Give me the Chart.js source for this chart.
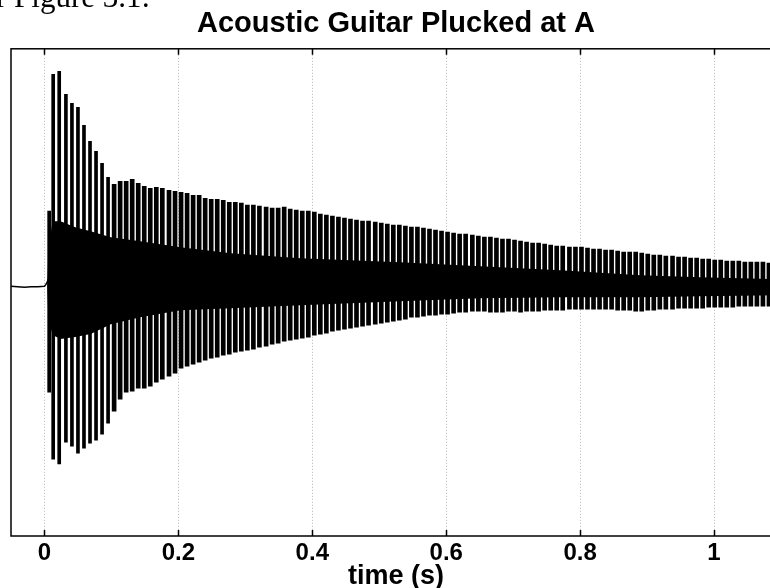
<!DOCTYPE html>
<html>
<head>
<meta charset="utf-8">
<script src="https://cdn.jsdelivr.net/npm/chart.js@4.4.0/dist/chart.umd.min.js"></script>
<style>
  body { margin: 0; overflow: hidden; background: #fff; width: 770px; height: 588px; position: relative; }
  #caption { position: absolute; left: -4px; top: -21px; font-family: 'Liberation Serif', serif; font-size: 31px; color: #000; white-space: nowrap; z-index: 2; }
  #wrap { position: absolute; left: 0; top: 0; }
</style>
</head>
<body>
<div id="caption">r Figure 3.1:</div>
<div id="wrap"><canvas id="myChart" width="800" height="588"></canvas></div>
<script>
'use strict';
// one spike per string period: time (s), top and bottom of the swing
let spikeTime = [0.007,
    0.013, 0.022, 0.032, 0.041, 0.050, 0.059, 0.068, 0.077, 0.086, 0.095,
    0.104, 0.113, 0.122, 0.131, 0.140, 0.149, 0.158, 0.167, 0.176, 0.186,
    0.195, 0.204, 0.213, 0.222, 0.231, 0.240, 0.249, 0.258, 0.267, 0.276,
    0.285, 0.294, 0.303, 0.312, 0.321, 0.331, 0.340, 0.349, 0.358, 0.367,
    0.376, 0.385, 0.394, 0.403, 0.412, 0.421, 0.430, 0.439, 0.448, 0.457,
    0.466, 0.475, 0.484, 0.494, 0.503, 0.512, 0.521, 0.530, 0.539, 0.548,
    0.557, 0.566, 0.575, 0.584, 0.593, 0.602, 0.611, 0.620, 0.629, 0.639,
    0.648, 0.657, 0.666, 0.675, 0.684, 0.693, 0.702, 0.711, 0.720, 0.729,
    0.738, 0.747, 0.756, 0.765, 0.774, 0.784, 0.793, 0.802, 0.811, 0.820,
    0.829, 0.838, 0.847, 0.856, 0.865, 0.874, 0.883, 0.892, 0.901, 0.910,
    0.919, 0.928, 0.938, 0.947, 0.956, 0.965, 0.974, 0.983, 0.992, 1.001,
    1.010, 1.019, 1.028, 1.037, 1.046, 1.055, 1.064, 1.073, 1.082, 1.091]

let spikeHigh = [0.300,
    0.848, 0.860, 0.768, 0.732, 0.716, 0.644, 0.580, 0.540, 0.492, 0.436,
    0.408, 0.420, 0.420, 0.428, 0.412, 0.400, 0.392, 0.396, 0.392, 0.384,
    0.380, 0.376, 0.372, 0.364, 0.364, 0.352, 0.348, 0.348, 0.344, 0.336,
    0.336, 0.332, 0.324, 0.324, 0.320, 0.316, 0.312, 0.312, 0.316, 0.308,
    0.304, 0.300, 0.300, 0.296, 0.288, 0.284, 0.280, 0.276, 0.272, 0.268,
    0.264, 0.260, 0.260, 0.256, 0.252, 0.248, 0.244, 0.244, 0.240, 0.236,
    0.236, 0.232, 0.228, 0.224, 0.220, 0.216, 0.212, 0.208, 0.208, 0.204,
    0.200, 0.196, 0.196, 0.192, 0.188, 0.188, 0.184, 0.180, 0.176, 0.172,
    0.172, 0.168, 0.164, 0.160, 0.160, 0.156, 0.156, 0.156, 0.152, 0.148,
    0.148, 0.144, 0.144, 0.140, 0.136, 0.136, 0.136, 0.132, 0.128, 0.124,
    0.124, 0.120, 0.120, 0.116, 0.116, 0.112, 0.112, 0.108, 0.108, 0.104,
    0.104, 0.100, 0.100, 0.100, 0.096, 0.096, 0.096, 0.096, 0.092, 0.092]

let spikeLow = [-0.424,
    -0.692, -0.712, -0.624, -0.640, -0.668, -0.648, -0.628, -0.616, -0.592, -0.548,
    -0.500, -0.452, -0.424, -0.420, -0.408, -0.408, -0.400, -0.384, -0.372, -0.360,
    -0.348, -0.328, -0.320, -0.312, -0.304, -0.296, -0.288, -0.284, -0.276, -0.272,
    -0.264, -0.260, -0.256, -0.252, -0.244, -0.240, -0.232, -0.228, -0.220, -0.216,
    -0.212, -0.208, -0.204, -0.196, -0.192, -0.188, -0.180, -0.176, -0.172, -0.168,
    -0.164, -0.160, -0.156, -0.152, -0.148, -0.144, -0.140, -0.136, -0.132, -0.124,
    -0.124, -0.120, -0.116, -0.116, -0.112, -0.112, -0.108, -0.104, -0.104, -0.100,
    -0.100, -0.100, -0.104, -0.104, -0.104, -0.100, -0.100, -0.104, -0.100, -0.100,
    -0.100, -0.096, -0.096, -0.096, -0.096, -0.092, -0.092, -0.092, -0.092, -0.092,
    -0.092, -0.092, -0.092, -0.096, -0.096, -0.096, -0.100, -0.100, -0.096, -0.096,
    -0.092, -0.092, -0.092, -0.088, -0.088, -0.088, -0.088, -0.088, -0.084, -0.084,
    -0.084, -0.084, -0.084, -0.080, -0.080, -0.080, -0.080, -0.080, -0.080, -0.080]

// the solid black middle of the trace
let coreTime = [0.004, 0.006, 0.012, 0.024, 0.046, 0.069, 0.099, 0.143, 0.203, 0.278, 0.382, 0.531, 0.651, 0.770, 0.890, 0.979, 1.099]
let coreHigh = [0.004, 0.148, 0.260, 0.260, 0.236, 0.220, 0.196, 0.180, 0.156, 0.132, 0.112, 0.096, 0.080, 0.064, 0.044, 0.036, 0.028]
let coreLow = [-0.004, -0.132, -0.196, -0.212, -0.204, -0.192, -0.152, -0.124, -0.096, -0.088, -0.076, -0.060, -0.048, -0.044, -0.044, -0.040, -0.036]

// silence before the pluck
let leadTime = [-0.05, -0.04, -0.03, -0.02, -0.01, 0.0, 0.002, 0.004, 0.006]
let leadValue = [0.0, -0.002, -0.004, -0.002, -0.002, 0.0, 0.006, 0.016, 0.03]

let timeTicks = [0, 0.2, 0.4, 0.6, 0.8, 1]

let fontFamily = "'Liberation Sans', Arial, Helvetica, sans-serif"

function pairs(xs, ys) {
    let out = []
    for (let i = 0; i < xs.length; i++) {
        out.push({ x: xs[i], y: ys[i] })
    }
    return out
}

// first spikes stand apart, later ones crowd together
let earlySpikes = []
let lateSpikes = []
for (let i = 0; i < spikeTime.length; i++) {
    let p = { x: spikeTime[i], y: [spikeLow[i], spikeHigh[i]] }
    if (spikeTime[i] < 0.1) earlySpikes.push(p)
    else lateSpikes.push(p)
}

// box round the plot and the little inward ticks on top and bottom
let framePlugin = {
    id: 'frame',
    afterDraw(chart) {
        let ctx = chart.ctx
        let a = chart.chartArea
        let xs = chart.scales.x
        ctx.save()
        ctx.strokeStyle = '#000'
        ctx.lineWidth = 1.5
        ctx.strokeRect(a.left, a.top, a.right - a.left, a.bottom - a.top)
        ctx.beginPath()
        for (let i = 0; i < timeTicks.length; i++) {
            let px = Math.round(xs.getPixelForValue(timeTicks[i])) + 0.5
            ctx.moveTo(px, a.top)
            ctx.lineTo(px, a.top + 6)
            ctx.moveTo(px, a.bottom)
            ctx.lineTo(px, a.bottom - 6)
        }
        ctx.stroke()
        ctx.restore()
    }
}

let ctx = document.getElementById('myChart').getContext('2d')

let myChart = new Chart(ctx, {
    type: 'bar',
    data: {
        datasets: [{
            type: 'line',
            data: pairs(coreTime, coreHigh),
            borderWidth: 0,
            pointRadius: 0,
            backgroundColor: '#000',
            fill: '+1'
        }, {
            type: 'line',
            data: pairs(coreTime, coreLow),
            borderWidth: 0,
            pointRadius: 0,
            fill: false
        }, {
            type: 'bar',
            data: earlySpikes,
            backgroundColor: '#000',
            borderWidth: 0,
            barThickness: 3,
            grouped: false
        }, {
            type: 'bar',
            data: lateSpikes,
            backgroundColor: '#000',
            borderWidth: 0,
            barThickness: 4,
            grouped: false
        }, {
            type: 'line',
            data: pairs(leadTime, leadValue),
            borderColor: '#000',
            borderWidth: 1.5,
            pointRadius: 0,
            fill: false
        }]
    },
    options: {
        responsive: false,
        animation: false,
        devicePixelRatio: 1,
        layout: { padding: { left: 11, right: 19, top: 0, bottom: 0 } },
        plugins: {
            legend: { display: false },
            tooltip: { enabled: false },
            title: {
                display: true,
                text: 'Acoustic Guitar Plucked at A',
                color: '#000',
                font: { family: fontFamily, size: 29, weight: 'bold' },
                padding: { top: 7, bottom: 7 }
            }
        },
        scales: {
            x: {
                type: 'linear',
                min: -0.05,
                max: 1.1,
                offset: false,
                afterBuildTicks: function (scale) {
                    scale.ticks = timeTicks.map(v => ({ value: v }))
                },
                afterFit: function (scale) {
                    scale.height = 52
                },
                grid: { color: '#b4b4b4', lineWidth: 1, drawTicks: false, offset: false },
                border: { display: false, dash: [1, 2] },
                ticks: {
                    color: '#000',
                    padding: 3,
                    font: { family: fontFamily, size: 24, weight: 'bold' },
                    callback: function (v) { return String(v) }
                },
                title: {
                    display: true,
                    text: 'time (s)',
                    color: '#000',
                    padding: { top: 0, bottom: -5 },
                    font: { family: fontFamily, size: 27, weight: 'bold' }
                }
            },
            y: {
                display: false,
                min: -1.0,
                max: 0.95
            }
        }
    },
    plugins: [framePlugin]
});
</script>
</body>
</html>
